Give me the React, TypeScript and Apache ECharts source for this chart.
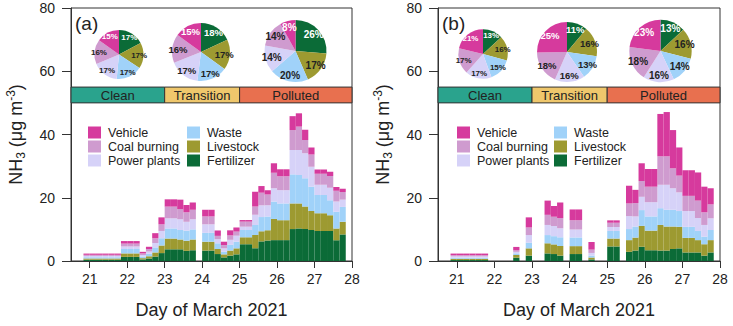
import React, { useEffect, useRef } from "react";
import * as echarts from "echarts";

const N = null;
const FONT = "'Liberation Sans', Arial, Helvetica, sans-serif";

// Source order: bottom of stack -> top of stack (also pie order, clockwise from 12 o'clock)
const sourceNames = ["Fertilizer", "Livestock", "Waste", "Power plants", "Coal burning", "Vehicle"];
const sourceColors = ["#0b6b37", "#9d9a31", "#a0d2f9", "#d6d2f8", "#cf9bcf", "#d63a9d"];
const pieLabelColors = ["#ffffff", "#222222", "#222222", "#222222", "#222222", "#ffffff"];

// 4-hour time slots from day 20.5 to day 28
const dayMin = 20.5;
const dayMax = 28;
const slotsPerDay = 6;
const slotCount = 45;
const slotLabels = Array.from({ length: slotCount }, (_v, i) => (dayMin + i / slotsPerDay).toFixed(3));
const dayTicks = [21, 22, 23, 24, 25, 26, 27, 28];

// Panel (a)
const aFertilizer = [N, N, 0.4, 0.4, 0.4, 0.4, 0.4, 0.4, 1.3, 1.3, 1.3, 0.5, 0.8, 1.4, 2.5, 3.7, 3.7, 3.7, 3.2, 3.4, N, 3.3, 3.3, 2.2, 1.15, 1.7, 2.1, 5.3, 5.3, 4.0, 6.2, 6.5, 6.6, 6.6, 6.6, 10.1, 10.3, 10.1, 9.8, 9.5, 9.5, 9.5, 6.6, 8.4, N];
const aLivestock = [N, N, 0.4, 0.4, 0.4, 0.4, 0.4, 0.4, 1.1, 1.1, 1.1, 0.4, 0.7, 1.3, 2.4, 3.4, 3.4, 3.1, 3.2, 3.4, N, 2.8, 2.8, 1.6, 0.95, 1.6, 1.9, 2.2, 2.2, 4.2, 3.2, 3.2, 6.7, 6.3, 6.3, 8.1, 7.9, 7.1, 6.0, 5.6, 5.6, 5.0, 3.7, 4.0, N];
const aWaste = [N, N, 0.4, 0.4, 0.4, 0.4, 0.4, 0.4, 1.4, 1.4, 1.4, 0.5, 0.8, 1.6, 2.3, 3.2, 3.2, 3.0, 3.2, 3.2, N, 2.8, 2.8, 1.8, 0.85, 1.8, 2.1, 2.3, 2.3, 3.2, 4.5, 4.4, 5.5, 5.3, 5.3, 9.2, 9.0, 9.0, 7.7, 5.8, 5.8, 4.7, 5.3, 4.7, N];
const aPower = [N, N, 0.4, 0.4, 0.4, 0.4, 0.4, 0.4, 0.8, 0.8, 0.8, 0.5, 0.7, 1.4, 2.3, 3.2, 3.2, 3.4, 2.8, 3.2, N, 2.7, 2.7, 1.3, 1.05, 1.6, 1.9, 1.05, 1.05, 3.2, 3.7, 3.5, 4.2, 4.2, 4.2, 7.7, 7.9, 7.9, 6.3, 3.2, 3.2, 4.0, 3.2, 2.3, N];
const aCoal = [N, N, 0.35, 0.35, 0.35, 0.35, 0.35, 0.35, 0.9, 0.9, 0.9, 0.5, 0.8, 1.5, 2.1, 3.7, 3.7, 3.2, 3.0, 3.0, N, 2.5, 2.5, 1.05, 1.05, 1.4, 1.3, 1.6, 1.6, 2.6, 4.0, 3.4, 4.9, 4.4, 4.4, 6.3, 7.4, 4.2, 3.9, 3.5, 3.5, 3.7, 3.4, 2.4, N];
const aVehicle = [N, N, 0.4, 0.4, 0.4, 0.4, 0.4, 0.4, 0.8, 0.8, 0.8, 0.5, 0.7, 1.6, 2.2, 2.3, 2.3, 3.0, 2.3, 2.3, N, 2.1, 2.1, 1.7, 1.05, 1.6, 1.3, 0.5, 0.5, 4.7, 2.1, 1.4, 3.0, 2.2, 2.2, 4.4, 4.2, 3.2, 2.2, 1.3, 1.3, 1.3, 1.2, 1.05, N];

// Panel (b)
const bFertilizer = [N, N, 0.3, 0.3, 0.3, 0.3, 0.3, 0.3, N, N, N, N, 1.05, N, 1.7, N, N, 2.4, 2.2, 1.7, N, 2.2, 2.2, N, 0.5, N, N, 4.6, 4.6, N, 2.9, 3.3, 4.5, 3.4, 3.4, 3.3, 3.3, 3.8, 4.0, 2.7, 2.7, 2.7, 1.7, 2.7, N];
const bLivestock = [N, N, 0.4, 0.4, 0.4, 0.4, 0.4, 0.4, N, N, N, N, 0.85, N, 2.3, N, N, 3.2, 3.05, 3.05, N, 2.5, 2.5, N, 0.6, N, N, 2.5, 2.5, N, 3.7, 4.1, 6.6, 6.2, 6.2, 8.1, 7.6, 7.1, 6.8, 4.6, 4.6, 3.9, 3.6, 3.9, N];
const bWaste = [N, N, 0.35, 0.35, 0.35, 0.35, 0.35, 0.35, N, N, N, N, 0.5, N, 1.8, N, N, 2.6, 2.6, 2.75, N, 2.75, 2.75, N, 0.6, N, N, 2.4, 2.4, N, 3.5, 3.5, 5.0, 4.5, 4.5, 5.3, 5.3, 5.3, 5.0, 3.5, 3.5, 2.9, 2.4, 3.2, N];
const bPower = [N, N, 0.4, 0.4, 0.4, 0.4, 0.4, 0.4, N, N, N, N, 0.5, N, 2.4, N, N, 3.2, 3.2, 2.85, N, 2.5, 2.5, N, 0.85, N, N, 1.25, 1.25, N, 4.1, 3.2, 4.2, 4.5, 4.5, 7.4, 7.9, 6.8, 5.9, 5.0, 5.0, 4.1, 3.7, 3.7, N];
const bCoal = [N, N, 0.4, 0.4, 0.4, 0.4, 0.4, 0.4, N, N, N, N, 0.5, N, 2.4, N, N, 3.2, 2.95, 3.2, N, 2.95, 2.95, N, 1.05, N, N, 1.35, 1.35, N, 4.0, 4.2, 5.0, 4.9, 4.9, 9.0, 9.0, 6.3, 5.3, 4.8, 4.8, 5.5, 4.0, 4.4, N];
const bVehicle = [N, N, 0.5, 0.5, 0.5, 0.5, 0.5, 0.5, N, N, N, N, 1.05, N, 3.2, N, N, 4.5, 3.4, 4.95, N, 3.4, 3.4, N, 2.4, N, N, 0.75, 0.75, N, 5.6, 4.2, 5.6, 5.6, 5.6, 13.4, 14.0, 12.1, 8.9, 8.1, 8.1, 8.9, 8.1, 5.1, N];

const panelBars = [
  [aFertilizer, aLivestock, aWaste, aPower, aCoal, aVehicle],
  [bFertilizer, bLivestock, bWaste, bPower, bCoal, bVehicle],
];

// Pie shares (%) in source order
const aClean = [17, 17, 17, 17, 16, 15];
const aTransition = [18, 17, 17, 17, 16, 15];
const aPolluted = [26, 17, 20, 14, 14, 8];
const bClean = [13, 16, 15, 17, 17, 21];
const bTransition = [11, 16, 13, 16, 18, 25];
const bPolluted = [13, 16, 14, 16, 18, 23];
const panelPies = [
  [aClean, aTransition, aPolluted],
  [bClean, bTransition, bPolluted],
];

// Period bands
const bandNames = ["Clean", "Transition", "Polluted"];
const bandStart = [20.5, 23, 25];
const bandEnd = [23, 25, 28];
const bandColors = ["#2aa38d", "#efc76c", "#e8704f"];
const bandLow = 50;
const bandHigh = 55;

const panelLetters = ["(a)", "(b)"];

export default function App() {
  const ref = useRef<HTMLDivElement>(null);

  useEffect(() => {
    if (!ref.current) return;
    const chart = echarts.init(ref.current, null, { renderer: "svg" });

    const grids = [
      { left: 71, top: 8, width: 281, height: 253 },
      { left: 438, top: 8, width: 282, height: 253 },
    ];
    const pieLayout = [
      [
        { c: [119, 54.5], r: 24.5, fs: 8 },
        { c: [201, 52], r: 29, fs: 9.5 },
        { c: [295.5, 51], r: 31, fs: 10 },
      ],
      [
        { c: [483, 54], r: 24.7, fs: 8 },
        { c: [567, 52], r: 30, fs: 9.5 },
        { c: [660.5, 51], r: 31.2, fs: 10 },
      ],
    ];
    const legendPos = [
      [88, 187],
      [457, 554],
    ];
    const letterPos = [75, 442];

    const series: any[] = [];
    [0, 1].forEach((p) => {
      sourceNames.forEach((name, k) => {
        series.push({
          type: "bar",
          name,
          xAxisIndex: p,
          yAxisIndex: p,
          stack: "panel" + p,
          data: panelBars[p][k],
          itemStyle: { color: sourceColors[k] },
          barWidth: "100%",
          barCategoryGap: "0%",
          silent: true,
          z: 2,
        });
      });
      series.push({
        type: "custom",
        xAxisIndex: 2 + p,
        yAxisIndex: p,
        data: bandStart.map((s, k) => [s, bandEnd[k]]),
        encode: { x: [0, 1] },
        silent: true,
        z: 3,
        renderItem: (params: any, api: any) => {
          const k = params.dataIndex;
          const tl = api.coord([api.value(0), bandHigh]);
          const br = api.coord([api.value(1), bandLow]);
          return {
            type: "group",
            children: [
              {
                type: "rect",
                shape: { x: tl[0], y: tl[1], width: br[0] - tl[0], height: br[1] - tl[1] },
                style: { fill: bandColors[k], stroke: "#333", lineWidth: 1 },
              },
              {
                type: "text",
                style: {
                  text: bandNames[k],
                  x: (tl[0] + br[0]) / 2,
                  y: (tl[1] + br[1]) / 2 + 1,
                  align: "center",
                  verticalAlign: "middle",
                  fontSize: 13,
                  fontFamily: FONT,
                  fill: "#222",
                },
              },
            ],
          };
        },
      });
      panelPies[p].forEach((vals, j) => {
        const L = pieLayout[p][j];
        // visible sectors
        series.push({
          type: "pie",
          center: L.c,
          radius: L.r,
          startAngle: 90,
          clockwise: true,
          silent: true,
          z: 5,
          label: { show: false },
          labelLine: { show: false },
          emphasis: { disabled: true },
          itemStyle: { borderWidth: 0 },
          data: sourceNames.map((name, k) => ({
            name,
            value: vals[k],
            itemStyle: { color: sourceColors[k] },
          })),
        });
        // label carrier (transparent ring so labels sit at ~0.7 r)
        series.push({
          type: "pie",
          center: L.c,
          radius: [L.r * 0.4, L.r],
          startAngle: 90,
          clockwise: true,
          silent: true,
          avoidLabelOverlap: false,
          labelLayout: { hideOverlap: false },
          z: 6,
          labelLine: { show: false },
          emphasis: { disabled: true },
          itemStyle: { borderWidth: 0, color: "rgba(0,0,0,0)" },
          label: {
            show: true,
            position: "inside",
            formatter: "{c}%",
            fontSize: L.fs,
            fontWeight: "bold",
            fontFamily: FONT,
          },
          data: sourceNames.map((name, k) => ({
            name,
            value: vals[k],
            itemStyle: { color: "rgba(0,0,0,0)" },
            label: { color: pieLabelColors[k] },
          })),
        });
      });
    });

    const legendBase = {
      orient: "vertical",
      top: 126,
      padding: 0,
      itemWidth: 13,
      itemHeight: 12,
      itemGap: 1,
      icon: "rect",
      selectedMode: false,
      textStyle: { fontSize: 12.5, color: "#222", fontFamily: FONT, lineHeight: 12, padding: [0, 0, 0, 2] },
    };
    const legends: any[] = [];
    [0, 1].forEach((p) => {
      legends.push({ ...legendBase, left: legendPos[p][0], data: ["Vehicle", "Coal burning", "Power plants"] });
      legends.push({ ...legendBase, left: legendPos[p][1], data: ["Waste", "Livestock", "Fertilizer"] });
    });

    const txt = { fontFamily: FONT, color: "#222" };
    const option: any = {
      animation: false,
      textStyle: { fontFamily: FONT },
      grid: grids.map((g) => ({ ...g, show: true, borderColor: "#333", borderWidth: 1, backgroundColor: "transparent" })),
      xAxis: [
        ...[0, 1].map((i) => ({
          type: "category",
          gridIndex: i,
          data: slotLabels,
          show: false,
          boundaryGap: true,
        })),
        ...[0, 1].map((i) => ({
          type: "value",
          gridIndex: i,
          min: dayMin,
          max: dayMax,
          position: "bottom",
          axisLine: { show: true, onZero: false, lineStyle: { color: "#333" } },
          axisTick: { show: true, customValues: dayTicks, length: 7, lineStyle: { color: "#333" } },
          axisLabel: { customValues: dayTicks, fontSize: 14, margin: 11, ...txt },
          splitLine: { show: false },
          name: "Day of March 2021",
          nameLocation: "middle",
          nameGap: 40,
          nameTextStyle: { fontSize: 18, ...txt },
        })),
      ],
      yAxis: [0, 1].map((i) => ({
        type: "value",
        gridIndex: i,
        min: 0,
        max: 80,
        interval: 20,
        axisLine: { show: true, lineStyle: { color: "#333" } },
        axisTick: { show: true, length: 9, lineStyle: { color: "#333" } },
        axisLabel: { fontSize: 14, margin: 16, ...txt },
        splitLine: { show: false },
        name: "{a|NH}{s|3}{a| (μg m}{p|-3}{a|)}",
        nameLocation: "middle",
        nameRotate: 90,
        nameGap: 44,
        nameTextStyle: {
          fontSize: 18,
          ...txt,
          rich: {
            a: { fontSize: 18, lineHeight: 22, verticalAlign: "middle", ...txt },
            s: { fontSize: 12, lineHeight: 12, verticalAlign: "bottom", ...txt },
            p: { fontSize: 12, lineHeight: 12, verticalAlign: "top", ...txt },
          },
        },
      })),
      legend: legends,
      graphic: [0, 1].map((p) => ({
        type: "text",
        left: letterPos[p],
        top: 14,
        style: { text: panelLetters[p], fontSize: 19, fontFamily: FONT, fill: "#222" },
      })),
      series,
    };

    chart.setOption(option);
    return () => chart.dispose();
  }, []);

  return (
    <div
      ref={ref}
      style={{ position: "fixed", left: 0, top: 0, width: 733, height: 326, background: "#fff" }}
    />
  );
}
